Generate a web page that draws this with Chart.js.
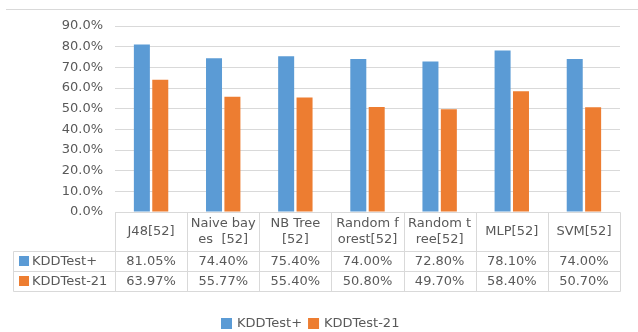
<!DOCTYPE html>
<html>
<head>
<meta charset="utf-8">
<script src="https://cdn.jsdelivr.net/npm/chart.js@4/dist/chart.umd.min.js"></script>
<style>
  html, body { margin: 0; padding: 0; background: #ffffff; }
  #wrap { width: 638px; height: 332px; }
</style>
</head>
<body>
<div id="wrap"><canvas id="c" width="638" height="332"></canvas></div>
<script>
// Classifier accuracies (%) on the two NSL-KDD test sets
const categories = [
  'J48[52]',
  ['Naive bay', 'es  [52]'],
  ['NB Tree', '[52]'],
  ['Random f', 'orest[52]'],
  ['Random t', 'ree[52]'],
  'MLP[52]',
  'SVM[52]'
];
const seriesNames = ['KDDTest+', 'KDDTest-21'];
const kddTestPlus = [81.05, 74.40, 75.40, 74.00, 72.80, 78.10, 74.00];
const kddTest21 = [63.97, 55.77, 55.40, 50.80, 49.70, 58.40, 50.70];
const seriesColors = ['#5B9BD5', '#ED7D31'];
const yTicks = [0, 10, 20, 30, 40, 50, 60, 70, 80, 90];

const FONT = '13px "DejaVu Sans", sans-serif';
const TEXT = '#595959';
const LINE = '#D9D9D9';

// Draws the frame line, the data table under the axis, and the legend
const tablePlugin = {
  id: 'dataTable',
  beforeDraw(chart) {
    const ctx = chart.ctx;
    ctx.save();
    ctx.fillStyle = '#ffffff';
    ctx.fillRect(0, 0, chart.width, chart.height);
    ctx.strokeStyle = LINE;
    ctx.lineWidth = 1;
    ctx.beginPath();
    ctx.moveTo(6, 9.5);
    ctx.lineTo(chart.width, 9.5);
    ctx.stroke();
    ctx.restore();
  },
  afterDraw(chart) {
    const ctx = chart.ctx;
    const x = chart.scales.x;
    const area = chart.chartArea;
    const n = categories.length;
    const colW = (x.right - x.left) / n;
    const top = Math.round(area.bottom);
    const headH = 39, rowH = 20;
    const r1 = top + headH, r2 = r1 + rowH, r3 = r2 + rowH;
    const tableLeft = 13;
    const px = v => Math.round(v) + 0.5;

    ctx.save();
    ctx.strokeStyle = LINE;
    ctx.lineWidth = 1;
    ctx.beginPath();
    // horizontal rules
    ctx.moveTo(px(x.left), px(top)); ctx.lineTo(px(x.right), px(top));
    [r1, r2, r3].forEach(y => { ctx.moveTo(px(tableLeft), px(y)); ctx.lineTo(px(x.right), px(y)); });
    // vertical rules
    for (let i = 0; i <= n; i++) {
      const cx = x.getPixelForValue(0) - colW / 2 + i * colW;
      ctx.moveTo(px(cx), px(top)); ctx.lineTo(px(cx), px(r3));
    }
    ctx.moveTo(px(tableLeft), px(r1)); ctx.lineTo(px(tableLeft), px(r3));
    ctx.stroke();

    ctx.font = FONT;
    ctx.fillStyle = TEXT;
    ctx.textAlign = 'center';
    ctx.textBaseline = 'middle';
    const series = [kddTestPlus, kddTest21];
    categories.forEach((label, i) => {
      const cx = x.getPixelForValue(i);
      const lines = Array.isArray(label) ? label : [label];
      const lh = 16;
      const startY = top + headH / 2 - (lines.length - 1) * lh / 2;
      lines.forEach((t, k) => ctx.fillText(t, cx, startY + k * lh));
      series.forEach((s, j) => {
        ctx.fillText(s[i].toFixed(2) + '%', cx, top + headH + rowH * j + rowH / 2 + 0.5);
      });
    });

    // row headers with series keys
    ctx.textAlign = 'left';
    seriesNames.forEach((name, j) => {
      const cy = r1 + rowH * j + rowH / 2;
      ctx.fillStyle = seriesColors[j];
      ctx.fillRect(19, Math.round(cy - 5), 10, 10);
      ctx.fillStyle = TEXT;
      ctx.fillText(name, 32, cy + 0.5);
    });

    // legend
    const box = 11, gapText = 5, gapItem = 6;
    const widths = seriesNames.map(t => ctx.measureText(t).width);
    const total = widths.reduce((a, w) => a + box + gapText + w, 0) + gapItem * (seriesNames.length - 1);
    let lx = Math.round(310 - total / 2);
    const ly = 323;
    seriesNames.forEach((name, j) => {
      ctx.fillStyle = seriesColors[j];
      ctx.fillRect(lx, ly - 5, box, box);
      ctx.fillStyle = TEXT;
      ctx.fillText(name, lx + box + gapText, ly + 0.5);
      lx += box + gapText + widths[j] + gapItem;
    });
    ctx.restore();
  }
};

new Chart(document.getElementById('c'), {
  type: 'bar',
  data: {
    labels: categories,
    datasets: [
      { label: seriesNames[0], data: kddTestPlus, backgroundColor: seriesColors[0] },
      { label: seriesNames[1], data: kddTest21, backgroundColor: seriesColors[1] }
    ]
  },
  options: {
    responsive: false,
    animation: false,
    devicePixelRatio: 1,
    categoryPercentage: 0.51,
    barPercentage: 0.87,
    layout: { padding: { top: 26, right: 18, bottom: 0, left: 0 } },
    plugins: { legend: { display: false }, tooltip: { enabled: false } },
    scales: {
      x: {
        grid: { display: false },
        border: { display: false },
        ticks: { display: false },
        afterFit(scale) { scale.height = 120; }
      },
      y: {
        min: 0,
        max: 90,
        afterBuildTicks(scale) { scale.ticks = yTicks.map(v => ({ value: v })); },
        grid: { color: LINE, lineWidth: 1, drawTicks: false },
        border: { display: false },
        ticks: {
          padding: 12,
          color: TEXT,
          font: { family: '"DejaVu Sans", sans-serif', size: 13 },
          callback: v => v.toFixed(1) + '%'
        },
        afterFit(scale) { scale.width = 115; }
      }
    }
  },
  plugins: [tablePlugin]
});
</script>
</body>
</html>
